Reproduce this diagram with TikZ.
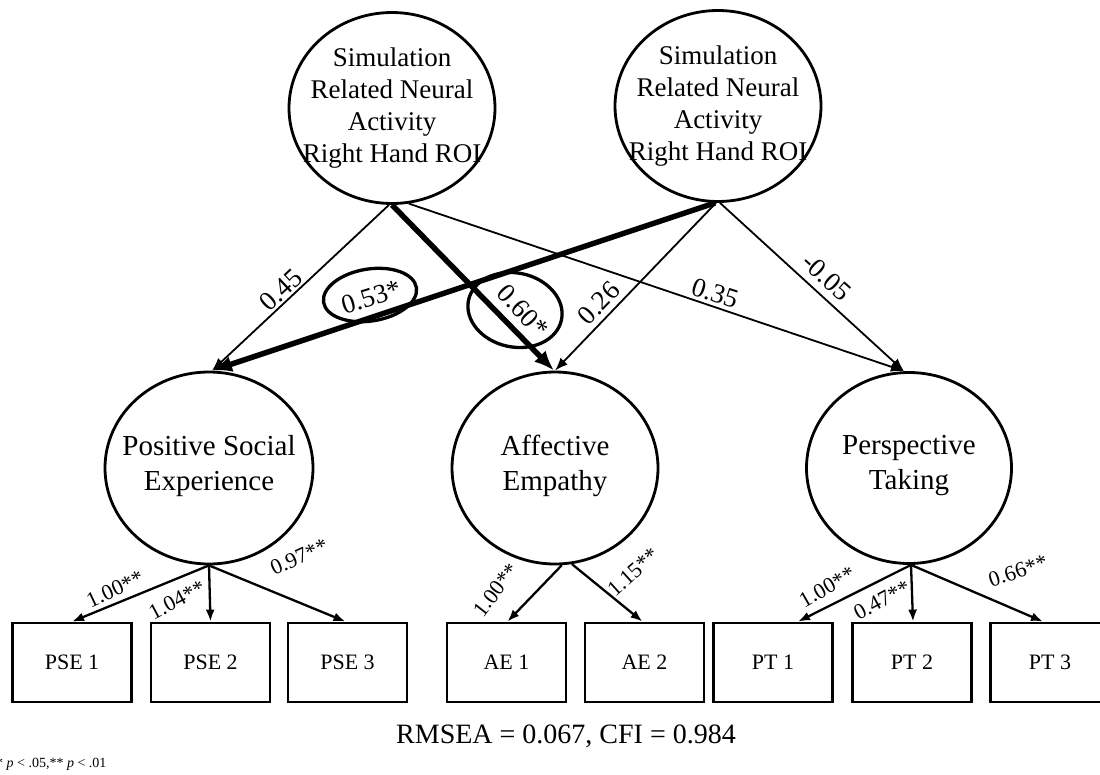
\documentclass[tikz,border=0pt]{standalone}
\usepackage{fontspec}
\setmainfont{Liberation Serif}
\usetikzlibrary{shapes.geometric,arrows.meta}
\tikzset{
  latent/.style={draw, ellipse, line width=2.8pt, minimum width=206pt, minimum height=191pt, inner sep=0pt},
  obs/.style={draw, rectangle, line width=2.8pt, minimum width=119pt, minimum height=79pt, inner sep=0pt,
    font=\fontsize{22}{26}\selectfont},
  toptxt/.style={align=center, font=\fontsize{27}{32}\selectfont, inner sep=0pt},
  lowtxt/.style={align=center, font=\fontsize{29}{35}\selectfont, inner sep=0pt},
  thinarr/.style={line width=1.8pt, -{Latex[length=13pt,width=10pt]}},
  thickarr/.style={line width=5.5pt, -{Latex[length=20pt,width=16pt]}},
  loadarr/.style={line width=2.3pt, -{Latex[length=12pt,width=9pt]}},
  pathlbl/.style={font=\fontsize{27}{30}\selectfont, inner sep=0pt},
  loadlbl/.style={font=\fontsize{22}{24}\selectfont, inner sep=0pt},
  oval/.style={draw, ellipse, line width=3.3pt, inner sep=0pt}
}
\begin{document}
\begin{tikzpicture}[x=1pt,y=-1pt]
\useasboundingbox (0,0) rectangle (1100,774);

% latent variables
\node[latent] (sl) at (392,108) {};
\node[toptxt] (slt) at (sl.center) {Simulation\\Related Neural\\Activity\\Right Hand ROI};
\node[latent] (sr) at (718,106) {};
\node[toptxt] (srt) at (sr.center) {Simulation\\Related Neural\\Activity\\Right Hand ROI};

\node[latent, minimum width=208pt, minimum height=192pt] (ps) at (209,468) {};
\node[lowtxt] (pst) at (209,466) {Positive Social\\Experience};
\node[latent, minimum width=206pt, minimum height=192pt] (ae) at (555,468) {};
\node[lowtxt] (aet) at (555,466) {Affective\\Empathy};
\node[latent, minimum width=205pt, minimum height=191pt] (pt) at (909,468) {};
\node[lowtxt] (ptt) at (909,466) {Perspective\\Taking};

% observed indicators
\node[obs] (p1) at (72,662.5) {PSE 1};
\node[obs] (p2) at (210.5,662.5) {PSE 2};
\node[obs] (p3) at (347.5,662.5) {PSE 3};
\node[obs] (a1) at (506.5,662.5) {AE 1};
\node[obs] (a2) at (644.5,662.5) {AE 2};
\node[obs] (t1) at (773,662.5) {PT 1};
\node[obs] (t2) at (912,662.5) {PT 2};
\node[obs] (t3) at (1050,662.5) {PT 3};

% significance ovals
\node[oval, minimum width=94pt, minimum height=52pt, rotate=9] (o53) at (370,295) {};
\node[oval, minimum width=95pt, minimum height=74pt, rotate=-12] (o60) at (515,310) {};

% structural paths
\draw[thinarr] ([xshift=-3pt]sl.south) -- ([xshift=3pt]ps.north);
\draw[thinarr] (sl.-80) -- ([xshift=-5pt]pt.north);
\draw[thinarr] ([xshift=-2pt]sr.south) -- (ae.north);
\draw[thinarr] ([xshift=2pt]sr.south) -- ([xshift=-5pt]pt.north);
\draw[thickarr] (sl.south) -- ([xshift=-1pt]ae.north);
\draw[thickarr] ([xshift=-3pt]sr.south) -- ([xshift=3pt]ps.north);

% path labels
\node[pathlbl, rotate=43] (l45) at (281,290) {0.45};
\node[pathlbl, rotate=17] (l53) at (371,297) {0.53*};
\node[pathlbl, rotate=-47] (l60) at (523,311) {0.60*};
\node[pathlbl, rotate=46] (l26) at (599,303) {0.26};
\node[pathlbl, rotate=-18] (l35) at (715,293) {0.35};
\node[pathlbl, rotate=-42] (l05) at (827,277) {-0.05};

% loadings
\draw[loadarr] (ps.south) -- (p1.north);
\draw[loadarr] (ps.south) -- (p2.north);
\draw[loadarr] (ps.south) -- ([xshift=-2pt]p3.north);
\draw[loadarr] (ae.-86) -- ([xshift=1pt]a1.north);
\draw[loadarr] (ae.-80) -- ([xshift=-2pt]a2.north);
\draw[loadarr] ([xshift=2pt]pt.south) -- ([xshift=25pt]t1.north);
\draw[loadarr] ([xshift=2pt]pt.south) -- ([xshift=1pt]t2.north);
\draw[loadarr] ([xshift=2pt]pt.south) -- ([xshift=-7pt]t3.north);

\node[loadlbl, rotate=25] (m1) at (115,589) {1.00**};
\node[loadlbl, rotate=28] (m2) at (177,600) {1.04**};
\node[loadlbl, rotate=24] (m3) at (299,557) {0.97**};
\node[loadlbl, rotate=52] (m4) at (496,590) {1.00**};
\node[loadlbl, rotate=42] (m5) at (633,572) {1.15**};
\node[loadlbl, rotate=30] (m6) at (827,587) {1.00**};
\node[loadlbl, rotate=28] (m7) at (882,600) {0.47**};
\node[loadlbl, rotate=18] (m8) at (1018,571) {0.66**};

% fit and footnote
\node[font=\fontsize{28}{32}\selectfont, inner sep=0pt] (fit) at (566,736) {RMSEA = 0.067, CFI = 0.984};
\node[font=\fontsize{14}{16}\selectfont, inner sep=0pt, anchor=west] (note) at (-4,764) {* \textit{p} < .05,** \textit{p} < .01};
\end{tikzpicture}
\end{document}
